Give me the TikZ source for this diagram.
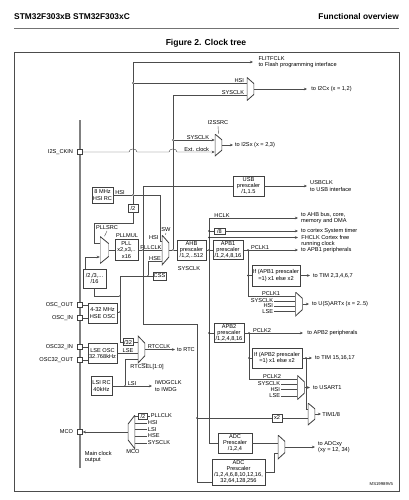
\documentclass[tikz,border=0pt]{standalone}
\usepackage{fontspec}
\setmainfont{Liberation Sans}
\usetikzlibrary{arrows.meta,positioning,calc}

\begin{document}
\begin{tikzpicture}[
    x=0.85pt, y=-0.85pt,
    font=\fontsize{4.8}{5.3}\selectfont,
    block/.style={rectangle, draw=black!75, line width=0.55pt, fill=white, align=center, inner sep=0pt},
    mux/.style 2 args={rectangle, inner sep=0pt, minimum height=#1, minimum width=#2,
        path picture={\draw[black!75, line width=0.7pt, fill=white]
            (path picture bounding box.north west)
            -- ($(path picture bounding box.north east)!0.27!(path picture bounding box.south east)$)
            -- ($(path picture bounding box.north east)!0.73!(path picture bounding box.south east)$)
            -- (path picture bounding box.south west) -- cycle;}},
    muxr/.style 2 args={rectangle, inner sep=0pt, minimum height=#1, minimum width=#2,
        path picture={\draw[black!75, line width=0.7pt, fill=white]
            (path picture bounding box.north east)
            -- ($(path picture bounding box.north west)!0.27!(path picture bounding box.south west)$)
            -- ($(path picture bounding box.north west)!0.73!(path picture bounding box.south west)$)
            -- (path picture bounding box.south east) -- cycle;}},
    pin/.style={rectangle, draw=black!75, line width=0.45pt, fill=white, minimum size=4.3pt, inner sep=0pt},
    dot/.style={circle, fill=black!85, inner sep=0pt, minimum size=1.6pt},
    lbl/.style={inner sep=0.6pt},
    dest/.style={align=left, inner sep=0.5pt},
    wire/.style={draw=black!70, line width=0.35pt},
    arrow/.style={wire, -{Stealth[length=2.6pt,width=2.2pt]}},
    hop/.style={out=90, in=90, looseness=1.3},
    heading/.style={font=\fontsize{7.1}{8}\selectfont\bfseries, inner sep=0pt}
]
\useasboundingbox (0,0) rectangle (409,500);

% Page header and frame
\node[heading, anchor=west] (part) at (14,17) {STM32F303xB STM32F303xC};
\node[heading, anchor=east] (section) at (399,17) {Functional overview};
\draw[black!55, line width=0.5pt] (14,28) -- (399,28);
\node[heading, font=\fontsize{7.3}{8}\selectfont\bfseries] (title) at (206,43) {Figure 2. Clock tree};
\draw[black!70, line width=0.6pt] (14,52) rectangle (399,491);

% Pins
\draw[black!50, line width=1.1pt] (80,120) -- (80,468);
\node[pin] (i2sckin) at (80,152) {};
\node[pin] (oscout) at (80,305) {};
\node[pin] (oscin) at (80,318) {};
\node[pin] (osc32in) at (80,347) {};
\node[pin] (osc32out) at (80,360) {};
\node[pin] (mco) at (80,432) {};
\node[lbl, anchor=east] (i2sckinlbl) at (74,152) {I2S\_CKIN};
\node[lbl, anchor=east] (oscoutlbl) at (74,305) {OSC\_OUT};
\node[lbl, anchor=east] (oscinlbl) at (74,318) {OSC\_IN};
\node[lbl, anchor=east] (osc32inlbl) at (74,347) {OSC32\_IN};
\node[lbl, anchor=east] (osc32outlbl) at (74,360) {OSC32\_OUT};
\node[lbl, anchor=east] (mcolbl) at (74,432) {MCO};

% HSI oscillator and HSI bus
\node[block, minimum width=17.9pt, minimum height=13.6pt] (hsirc) at (102.5,195) {8 MHz\\HSI RC};
\node[lbl, anchor=south] (hsilbl) at (120,195) {HSI};
\node[dot] (jhsi) at (133,195) {};
\node[dot] (jhsi2) at (133,83) {};
\coordinate (hsitop) at (133,62);
\coordinate (flitend) at (253,62);
\node[block, minimum width=8.5pt, minimum height=6.8pt] (div2) at (133,208) {/2};
\draw[wire] (div2.north) -- (jhsi) -- (jhsi2) -- (hsitop);
\draw[arrow] (hsitop) -- (flitend);
\node[dest, right=4pt of flitend] (flit) {FLITFCLK\\to Flash programming interface};

% I2C clock selection
\node[mux={19.6pt}{6pt}] (mi2c) at (250.5,89) {};
\coordinate (sysctop) at (173,95);
\draw[wire] (jhsi2) -- (jhsi2 -| mi2c.west);
\draw[wire] (sysctop) -- (sysctop -| mi2c.west);
\node[lbl, anchor=south east] (i2chsi) at (245,83) {HSI};
\node[lbl, anchor=south east] (i2csys) at (245,95) {SYSCLK};
\coordinate (i2cend) at (307,89);
\draw[arrow] (mi2c.east) -- (i2cend);
\node[dest, right=3pt of i2cend] (i2cout) {to I2Cx (x = 1,2)};

% I2S clock selection
\node[mux={18.7pt}{6pt}] (mi2s) at (218.5,145) {};
\node[dot] (jsys1) at (173,140) {};
\node[dot] (jsys2) at (173,250) {};
\draw[wire] (sysctop) -- (jsys1) -- (jsys2);
\draw[arrow] (jsys1) -- (jsys1 -| mi2s.west);
\draw[arrow] (i2sckin.east) -- (129,152) to[hop] (137,152) -- (169,152) to[hop] (177,152) -- (i2sckin -| mi2s.west);
\node[lbl, anchor=south east] (i2ssys) at (210,140) {SYSCLK};
\node[lbl, anchor=south east] (i2sext) at (210,152) {Ext. clock};
\node[lbl] (i2ssrc) at (218,123) {I2SSRC};
\draw[wire] (i2ssrc.south) -- (mi2s.north);
\coordinate (i2send) at (233,145);
\draw[arrow] (mi2s.east) -- (i2send);
\node[dest, right=1pt of i2send] (i2sout) {to I2Sx (x = 2,3)};

% USB
\coordinate (pllctop) at (143,186);
\node[block, minimum width=26.4pt, minimum height=17pt] (usb) at (248.5,186) {USB\\prescaler\\/1,1.5};
\draw[wire] (pllctop) -- (usb);
\coordinate (usbend) at (307,186);
\draw[arrow] (usb.east) -- (usbend);
\node[dest, right=2pt of usbend] (usbout) {USBCLK\\to USB interface};

% PLL
\node[mux={23pt}{7.6pt}] (pllsrc) at (104.5,250) {};
\node[lbl] (pllsrclbl) at (107,228) {PLLSRC};
\draw[wire] (pllsrclbl.south) -- (pllsrc.north);
\coordinate (hsidiv) at (94,223);
\coordinate (srcin1) at (94,243);
\draw[wire] (div2.south) |- (hsidiv) -- (srcin1) -- (srcin1 -| pllsrc.west);
\node[block, minimum width=19.6pt, minimum height=16.2pt] (prediv) at (94.5,278.5) {/2,/3,...\\/16};
\coordinate (srcin2) at (85,257);
\draw[arrow] (srcin2 |- prediv.north) -- (srcin2) -- (srcin2 -| pllsrc.west);
\node[block, minimum width=19.6pt, minimum height=17.9pt] (pll) at (126.5,250) {PLL\\x2,x3,..\\x16};
\node[lbl] (pllmul) at (127,235.5) {PLLMUL};
\draw[wire] (pllsrc.east) -- (pll.west);

% System clock switch
\node[mux={25.5pt}{6pt}] (sw) at (165.5,250) {};
\node[lbl] (swlbl) at (166,230) {SW};
\draw[wire] (swlbl.south) -- (sw.north);
\node[dot] (jpll) at (143,250) {};
\draw[wire] (pll.east) -- (jpll) -- (sw.west);
\node[lbl, anchor=south] (pllclklbl) at (151,250) {PLLCLK};
\coordinate (hsisw) at (160,241);
\draw[wire] (hsirc.east) -- (jhsi) -| (hsisw) -- (hsisw -| sw.west);
\node[lbl, anchor=east] (swhsi) at (159.5,238) {HSI};
\node[block, minimum width=11pt, minimum height=6.8pt] (css) at (159.5,276) {CSS};
\coordinate (hsetop) at (120,276);
\node[dot] (jcss) at (148,276) {};
\coordinate (swin3) at (148,261);
\draw[wire] (hsetop) -- (css.west);
\draw[wire] (jcss) -- (swin3) -- (swin3 -| sw.west);
\node[lbl, anchor=south] (swhse) at (155,261) {HSE};
\node[block, minimum width=24.6pt, minimum height=17pt] (ahb) at (191.5,250) {AHB\\prescaler\\/1,2,..512};
\draw[wire] (sw.east) -- (jsys2) -- (ahb.west);
\node[lbl] (sysclklbl) at (189,269) {SYSCLK};

% HCLK bus
\node[dot] (jhclk) at (209,250) {};
\coordinate (hclktop) at (209,218);
\coordinate (hclkbot) at (209,443);
\draw[wire] (ahb.east) -- (jhclk);
\draw[wire] (hclktop) -- (hclkbot);
\coordinate (ahbend) at (298,218);
\draw[arrow] (hclktop) -- (ahbend);
\node[lbl, anchor=south] (hclklbl) at (222,218) {HCLK};
\node[dest, right=2pt of ahbend] (ahbout) {to AHB bus, core,\\memory and DMA};
\node[dot] (jdiv8) at (209,231) {};
\node[block, minimum width=9.4pt, minimum height=5.1pt] (div8) at (219.5,231) {/8};
\coordinate (systend) at (298,231);
\draw[wire] (jdiv8) -- (div8.west);
\draw[arrow] (div8.east) -- (systend);
\node[dest, right=2pt of systend] (systout) {to cortex System timer};
\node[dot] (jfh) at (209,237.5) {};
\coordinate (fhend) at (298,237.5);
\draw[arrow] (jfh) -- (fhend);
\node[dest, anchor=north west] (fhout) at (300.5,234.6) {FHCLK Cortex free\\running clock};

% APB1 domain
\node[block, minimum width=25.5pt, minimum height=16.2pt] (apb1) at (228,250) {APB1\\prescaler\\/1,2,4,8,16};
\draw[wire] (jhclk) -- (apb1.west);
\node[dot] (jpclk1) at (248,250) {};
\coordinate (apb1end) at (298,250);
\draw[arrow] (apb1.east) -- (apb1end);
\node[lbl, anchor=south] (pclk1lbl) at (260,250) {PCLK1};
\node[dest, right=2pt of apb1end] (apb1out) {to APB1 peripherals};
\node[block, minimum width=40.8pt, minimum height=17.9pt] (tim1box) at (276,275.5) {If (APB1 prescaler\\=1) x1 else x2};
\node[dot] (jtim1) at (248,275.5) {};
\draw[wire] (jtim1) -- (tim1box.west);
\coordinate (tim1end) at (310,275.5);
\draw[arrow] (tim1box.east) -- (tim1end);
\node[dest, right=2pt of tim1end] (tim1out) {to TIM 2,3,4,6,7};
\node[mux={20.4pt}{6pt}] (musart) at (299,304) {};
\coordinate (usartin1) at (248,296);
\draw[wire] (jpclk1) -- (usartin1) -- (usartin1 -| musart.west);
\node[lbl, anchor=south] (pclk1lbl2) at (271,296) {PCLK1};
\node[lbl, anchor=east] (usartsys) at (274,301) {SYSCLK};
\node[lbl, anchor=east] (usarthsi) at (274,306) {HSI};
\node[lbl, anchor=east] (usartlse) at (274,311.5) {LSE};
\draw[wire] (usartsys.east) -- (usartsys.east -| musart.west);
\draw[wire] (usarthsi.east) -- (usarthsi.east -| musart.west);
\draw[wire] (usartlse.east) -- (usartlse.east -| musart.west);
\coordinate (usartend) at (309,304);
\draw[arrow] (musart.east) -- (usartend);
\node[dest, right=2pt of usartend] (usartout) {to U(S)ARTx (x = 2..5)};

% APB2 domain
\node[block, minimum width=25.5pt, minimum height=16.2pt] (apb2) at (229,333) {APB2\\prescaler\\/1,2,4,8,16};
\node[dot] (japb2) at (209,333) {};
\draw[wire] (japb2) -- (apb2.west);
\node[dot] (jpclk2) at (249,333) {};
\coordinate (apb2end) at (303,333);
\draw[arrow] (apb2.east) -- (apb2end);
\node[lbl, anchor=south] (pclk2lbl) at (262,333) {PCLK2};
\node[dest, right=3pt of apb2end] (apb2out) {to APB2 peripherals};
\node[block, minimum width=42.5pt, minimum height=17pt] (tim2box) at (277,358) {If (APB2 prescaler\\=1) x1 else x2};
\node[dot] (jtim2) at (249,358) {};
\draw[wire] (jtim2) -- (tim2box.west);
\node[dot] (jtim18) at (306,358) {};
\coordinate (tim2end) at (312,358);
\draw[arrow] (tim2box.east) -- (tim2end);
\node[dest, right=2pt of tim2end] (tim2out) {to TIM 15,16,17};
\node[mux={20.4pt}{6pt}] (musart1) at (301,387.5) {};
\coordinate (usart1in1) at (249,379);
\draw[wire] (jpclk2) -- (usart1in1) -- (usart1in1 -| musart1.west);
\node[lbl, anchor=south] (pclk2lbl2) at (272,379) {PCLK2};
\node[lbl, anchor=east] (usart1sys) at (281,384) {SYSCLK};
\node[lbl, anchor=east] (usart1hsi) at (281,389.5) {HSI};
\node[lbl, anchor=east] (usart1lse) at (281,396) {LSE};
\draw[wire] (usart1sys.east) -- (usart1sys.east -| musart1.west);
\draw[wire] (usart1hsi.east) -- (usart1hsi.east -| musart1.west);
\draw[wire] (usart1lse.east) -- (usart1lse.east -| musart1.west);
\coordinate (usart1end) at (310,387.5);
\draw[arrow] (musart1.east) -- (usart1end);
\node[dest, right=2pt of usart1end] (usart1out) {to USART1};

% TIM1/8 clock
\node[mux={18.7pt}{6pt}] (mtim18) at (311.5,414) {};
\coordinate (tim18in1) at (306,409);
\draw[wire] (jtim18) -- (tim18in1) -- (tim18in1 -| mtim18.west);
\node[block, minimum width=8.5pt, minimum height=6.8pt] (x2) at (277,418) {x2};
\node[dot] (jx2) at (197,418) {};
\draw[wire] (jx2) -- (x2.west);
\draw[wire] (x2.east) -- (x2.east -| mtim18.west);
\coordinate (tim18end) at (321,414);
\draw[arrow] (mtim18.east) -- (tim18end);
\node[dest, right=0.5pt of tim18end] (tim18out) {TIM1/8};

% ADC clocks
\node[block, minimum width=28.9pt, minimum height=17pt] (adcs) at (235,443) {ADC\\Prescaler\\/1,2,4};
\draw[wire] (hclkbot) -- (adcs.west);
\node[block, minimum width=45pt, minimum height=22.1pt] (adcb) at (238.5,472) {ADC\\Prescaler\\/1,2,4,6,8,10,12,16,\\32,64,128,256};
\coordinate (pllcmid) at (143,324);
\coordinate (pllcbend) at (197,324);
\coordinate (pllcbot) at (197,482);
\draw[wire] (pllctop) -- (pllcmid) -- (pllcbend) -- (pllcbot) -- (pllcbot -| adcb.west);
\node[mux={20.4pt}{6pt}] (madc) at (281.5,447) {};
\draw[wire] (adcs.east) -- (adcs.east -| madc.west);
\coordinate (adcin2) at (274,453);
\draw[wire] (adcb.east) -| (adcin2) -- (adcin2 -| madc.west);
\coordinate (adcend) at (315,447);
\draw[arrow] (madc.east) -- (adcend);
\node[dest, right=2pt of adcend] (adcout) {to ADCxy\\(xy = 12, 34)};

% HSE oscillator
\node[block, minimum width=24.7pt, minimum height=17pt] (hseosc) at (102.5,313) {4-32 MHz\\HSE OSC};
\draw[wire] (oscout.east) -- (oscout.east -| hseosc.west);
\draw[wire] (oscin.east) -- (oscin.east -| hseosc.west);
\node[dot] (jhse1) at (120,296) {};
\node[dot] (jhse2) at (120,312) {};
\node[block, minimum width=8.5pt, minimum height=6pt] (div32) at (128,342) {/32};
\coordinate (hsebot) at (120,342);
\draw[wire] (hsetop) -- (hsebot) -- (div32.west);
\draw[wire] (prediv.south) |- (jhse1);
\draw[wire] (hseosc.east |- jhse2) -- (jhse2);

% RTC and IWDG
\node[mux={23pt}{6pt}] (mrtc) at (141.5,349.5) {};
\draw[wire] (div32.east) -- (div32.east -| mrtc.west);
\node[block, minimum width=24.7pt, minimum height=17pt] (lseosc) at (102.5,353.5) {LSE OSC\\32.768kHz};
\draw[wire] (osc32in.east) -- (osc32in.east -| lseosc.west);
\draw[wire] (osc32out.east) -- (osc32out.east -| lseosc.west);
\draw[wire] (lseosc.east) -- (lseosc.east -| mrtc.west);
\node[lbl, anchor=south] (lselbl) at (128,353.5) {LSE};
\node[block, minimum width=17.9pt, minimum height=16.2pt] (lsirc) at (101.5,386) {LSI RC\\40kHz};
\node[dot] (jlsi) at (125,386) {};
\coordinate (rtcin3) at (125,359.5);
\coordinate (lsiend) at (152,386);
\draw[arrow] (lsirc.east) -- (lsiend);
\draw[wire] (jlsi) -- (rtcin3) -- (rtcin3 -| mrtc.west);
\node[lbl, anchor=south] (lsilbl) at (132,386) {LSI};
\node[dest, right=2pt of lsiend] (iwdgout) {IWDGCLK\\to IWDG};
\coordinate (rtcend) at (175,349.5);
\draw[arrow] (mrtc.east) -- (rtcend);
\node[lbl, anchor=south] (rtcclklbl) at (159,349.5) {RTCCLK};
\node[dest, right=1pt of rtcend] (rtcout) {to RTC};
\node[lbl] (rtcsel) at (147,367.5) {RTCSEL[1:0]};
\draw[wire] (rtcsel.north) -- (mrtc.south);

% Main clock output
\node[muxr={28.9pt}{6pt}] (mmco) at (131.5,432) {};
\draw[arrow] (mmco.west) -- (mco.east);
\node[block, minimum width=7.7pt, minimum height=5.1pt] (div2mco) at (143,416) {/2};
\draw[wire] (div2mco.west) -- (div2mco.west -| mmco.east);
\node[lbl, anchor=west] (mcopll) at (150,416) {PLLCLK};
\draw[wire] (div2mco.east) -- (mcopll.west);
\node[lbl, anchor=west] (mcohsi) at (147,423) {HSI};
\node[lbl, anchor=west] (mcolsi) at (147,429.5) {LSI};
\node[lbl, anchor=west] (mcohse) at (147,436) {HSE};
\node[lbl, anchor=west] (mcosys) at (147,443) {SYSCLK};
\draw[wire] (mcohsi.west) -- (mcohsi.west -| mmco.east);
\draw[wire] (mcolsi.west) -- (mcolsi.west -| mmco.east);
\draw[wire] (mcohse.west) -- (mcohse.west -| mmco.east);
\draw[wire] (mcosys.west) -- (mcosys.west -| mmco.east);
\node[lbl] (mcosel) at (133,452) {MCO};
\draw[wire] (mcosel.north) -- (mmco.south);
\node[lbl, anchor=north west, align=left] (mcotext) at (84,450) {Main clock\\output};

% Drawing number
\node[lbl, anchor=east, font=\fontsize{3.6}{4}\selectfont] (msid) at (394,484) {MS19989V5};

\end{tikzpicture}
\end{document}
